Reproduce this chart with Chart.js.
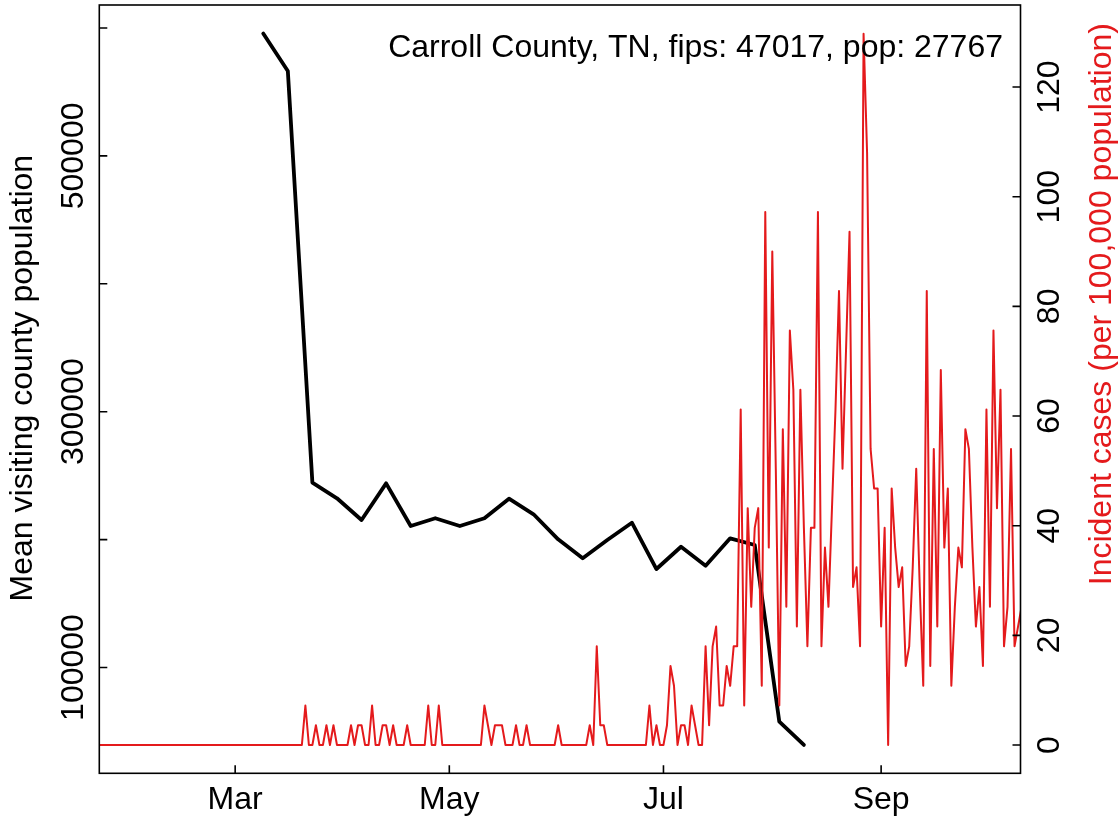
<!DOCTYPE html>
<html><head><meta charset="utf-8">
<script src="https://cdn.jsdelivr.net/npm/chart.js@4"></script>
<style>html,body{margin:0;padding:0;background:#fff;}canvas{display:block;}</style>
</head><body>
<canvas id="c" width="1119" height="817"></canvas>
<script>
// ---- text ----
const titleText = 'Carroll County, TN, fips: 47017, pop: 27767';
const leftAxisTitle = 'Mean visiting county population';
const rightAxisTitle = 'Incident cases (per 100,000 population)';

// ---- x axis (days counted from 2020-03-01) ----
const xTickDays = [0, 61, 122, 184];
const xTickLabels = ['Mar', 'May', 'Jul', 'Sep'];

// ---- left axis ----
const leftTicks = [100000, 200000, 300000, 400000, 500000, 600000];
const leftTickLabels = ['100000', '', '300000', '', '500000', ''];

// ---- right axis ----
const rightTicks = [0, 20, 40, 60, 80, 100, 120];
const rightTickLabels = ['0', '20', '40', '60', '80', '100', '120'];

// ---- black series: weekly mean visiting population ----
const blackDays = [8, 15, 22, 29, 36, 43, 50, 57, 64, 71, 78, 85, 92, 99, 106, 113, 120, 127, 134, 141, 148, 155, 162];
const blackValues = [595700, 566400, 244500, 232300, 215300, 244000, 210600, 216700, 210600, 216700, 232000, 219800,
  200200, 185400, 199700, 213200, 177000, 194400, 179600, 201000, 195800, 57600, 39500];

// ---- red series: daily incident cases per 100k, first value = Jan 22 (day -39) ----
const redFirstDay = -39;
const redValues = [
  0,0,0,0,0,0,0,0,0,0, 0,0,0,0,0,0,0,0,0,0, 0,0,0,0,0,0,0,0,0,0,
  0,0,0,0,0,0,0,0,0,0, 0,0,0,0,0,0,0,0,0,0, 0,0,0,0,0,0,0,0,0,
  7.2,0,0,3.6,0,0,3.6,0,3.6,0, 0,0,0,3.6,0,3.6,3.6,0,0,7.2, 0,0,3.6,3.6,0,3.6,0,0,0,3.6,
  0,0,0,0,0,7.2,0,0,7.2,0, 0,0,0,0,0,0,0,0,0,0, 0,7.2,3.6,0,3.6,3.6,3.6,0,0,0,
  3.6,0,0,3.6,0,0,0,0,0,0, 0,0,3.6,0,0,0,0,0,0,0, 0,3.6,0,18.0,3.6,3.6,0,0,0,0,
  0,0,0,0,0,0,0,0,7.2,0, 3.6,0,0,3.6,14.4,10.8,0,3.6,3.6,0, 7.2,3.6,0,0,18.0,3.6,18.0,21.6,7.2,7.2,
  14.4,10.8,18.0,18.0,61.2,7.2,43.2,25.2,39.6,43.2, 10.8,97.2,36.0,90.0,50.4,7.2,57.6,25.2,75.6,64.8,
  21.6,64.8,39.6,18.0,39.6,39.6,97.2,18.0,36.0,25.2,
  43.2,61.2,82.8,50.4,72.0,93.6,28.8,32.4,18.0,129.7, 108.0,54.0,46.8,46.8,21.6,39.6,0,46.8,36.0,28.8,
  32.4,14.4,18.0,32.4,50.4,28.8,10.8,82.8,14.4,54.0,
  21.6,68.4,36.0,46.8,10.8,25.2,36.0,32.4,57.6,54.0, 36.0,21.6,28.8,14.4,61.2,25.2,75.6,43.2,64.8,18.0,
  25.2,54.0,18.0,21.6,25.2
];

const RED = '#E41A1C';
const FONT = '32px "Liberation Sans", Arial, Helvetica, sans-serif';

const blackPts = blackDays.map((d, i) => ({x: d, y: blackValues[i]}));
const redPts = redValues.map((v, i) => ({x: redFirstDay + i, y: v}));

const framePlugin = {
  id: 'frame',
  beforeDraw(chart) {
    const c = chart.ctx;
    c.save(); c.fillStyle = '#fff'; c.fillRect(0, 0, chart.width, chart.height); c.restore();
  },
  afterDraw(chart) {
    const ctx = chart.ctx, a = chart.chartArea;
    const sx = chart.scales.x, sy = chart.scales.y, sr = chart.scales.y1;
    ctx.save();
    ctx.strokeStyle = '#000';
    ctx.lineWidth = 1.6;
    ctx.strokeRect(a.left, a.top, a.right - a.left, a.bottom - a.top);
    const TL = 8;
    ctx.beginPath();
    xTickDays.forEach(d => { const x = sx.getPixelForValue(d); ctx.moveTo(x, a.bottom); ctx.lineTo(x, a.bottom - TL); });
    leftTicks.forEach(v => { const y = sy.getPixelForValue(v); ctx.moveTo(a.left, y); ctx.lineTo(a.left + TL, y); });
    rightTicks.forEach(v => { const y = sr.getPixelForValue(v); ctx.moveTo(a.right, y); ctx.lineTo(a.right - TL, y); });
    ctx.stroke();

    ctx.font = FONT;
    ctx.fillStyle = '#000';
    ctx.textAlign = 'center';
    ctx.textBaseline = 'alphabetic';
    xTickDays.forEach((d, i) => ctx.fillText(xTickLabels[i], sx.getPixelForValue(d), 809));

    const rot = (text, x, y, color) => {
      ctx.save(); ctx.translate(x, y); ctx.rotate(-Math.PI / 2);
      ctx.fillStyle = color; ctx.textAlign = 'center'; ctx.textBaseline = 'alphabetic';
      ctx.fillText(text, 0, 0); ctx.restore();
    };
    leftTicks.forEach((v, i) => { if (leftTickLabels[i]) rot(leftTickLabels[i], 83, sy.getPixelForValue(v), '#000'); });
    rightTicks.forEach((v, i) => rot(rightTickLabels[i], 1059, sr.getPixelForValue(v), '#000'));
    const midY = (a.top + a.bottom) / 2;
    rot(leftAxisTitle, 32, midY - 11, '#000');
    rot(rightAxisTitle, 1111, midY - 85, RED);

    ctx.textAlign = 'right';
    ctx.fillStyle = '#000';
    ctx.fillText(titleText, 1003, 57);
    ctx.restore();
  }
};

new Chart(document.getElementById('c'), {
  type: 'line',
  data: {
    datasets: [
      { label: 'cases', data: redPts, yAxisID: 'y1', borderColor: RED, borderWidth: 2,
        pointRadius: 0, tension: 0, fill: false, order: 0, clip: 0,
        borderJoinStyle: 'round', borderCapStyle: 'round' },
      { label: 'visits', data: blackPts, yAxisID: 'y', borderColor: '#000', borderWidth: 3.8,
        pointRadius: 0, tension: 0, fill: false, order: 1, clip: 0,
        borderJoinStyle: 'round', borderCapStyle: 'round' }
    ]
  },
  options: {
    responsive: false, animation: false, devicePixelRatio: 1,
    layout: { padding: { left: 99.3, right: 98.5, top: 5, bottom: 43.7 } },
    plugins: { legend: { display: false }, tooltip: { enabled: false } },
    scales: {
      x: { type: 'linear', min: -38.7, max: 223.7, display: false },
      y: { type: 'linear', min: 17280, max: 617980, display: false },
      y1: { type: 'linear', min: -5.16, max: 134.96, display: false }
    }
  },
  plugins: [framePlugin]
});
</script>
</body></html>
